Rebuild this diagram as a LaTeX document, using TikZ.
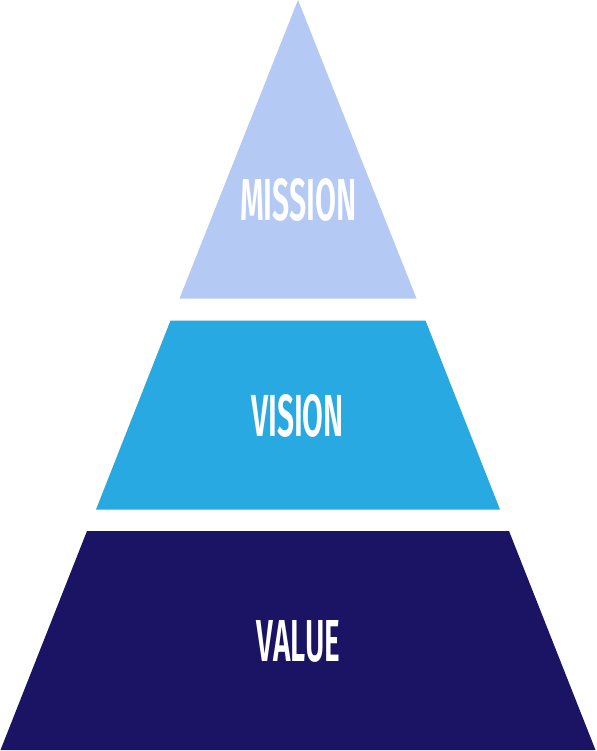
\documentclass[tikz,border=0pt]{standalone}
\usepackage{fontspec}
\setmainfont{Fira Sans}[BoldFont={Fira Sans SemiBold}]
\usepackage{graphicx}
\definecolor{missionc}{HTML}{B4C9F3}
\definecolor{visionc}{HTML}{29A9E1}
\definecolor{valuec}{HTML}{1B1464}
\tikzset{
  tier/.style={draw=none},
  label/.style={text=white, inner sep=0pt, anchor=center, font=\bfseries}
}
\begin{document}
\begin{tikzpicture}[x=1pt,y=-1pt]
\useasboundingbox (0,0) rectangle (596,751);
\fill[missionc] (298,0) -- (416.5,298.5) -- (179.5,298.5) -- cycle;
\fill[visionc] (170.5,320.5) -- (425.5,320.5) -- (500,509.5) -- (96,509.5) -- cycle;
\fill[valuec] (87,531) -- (509,531) -- (595.5,750) -- (0.5,750) -- cycle;
\node[label] (mission) at (298.5,200) {\resizebox{117pt}{42pt}{MISSION}};
\node[label] (vision) at (297.5,416) {\resizebox{93pt}{42pt}{VISION}};
\node[label] (value) at (298.5,641.5) {\resizebox{83pt}{41pt}{VALUE}};
\end{tikzpicture}
\end{document}
